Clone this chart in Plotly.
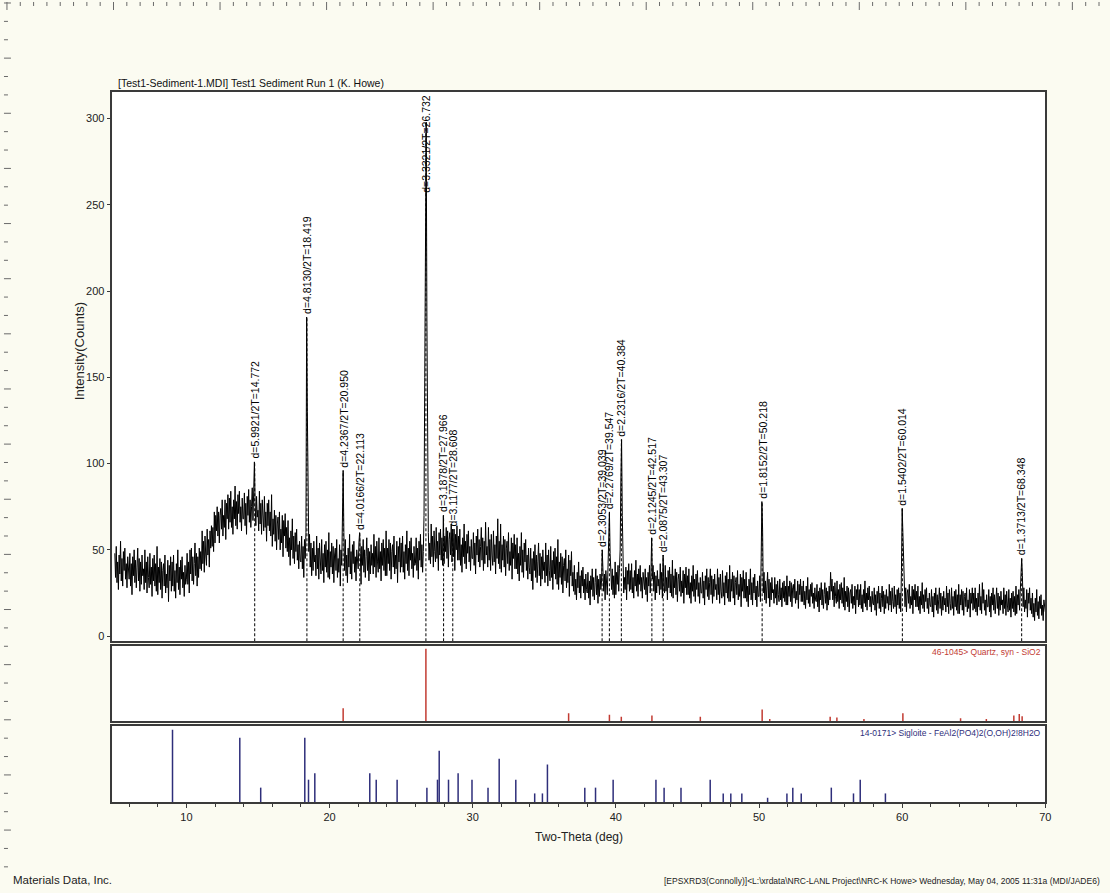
import plotly.graph_objects as go

# ---------------- data ----------------
TWO_THETA_START = 5.0
TWO_THETA_STEP = 0.05
# measured counts, one row per degree (x.00, x.05, ... x.95)
INTENSITY = [
    48, 34, 52, 31, 43, 27, 47, 36, 55, 32, 45, 29, 49, 38, 51, 33, 42, 28, 46, 35,   # 5
    33, 48, 29, 42, 24, 46, 35, 50, 31, 44, 28, 40, 51, 32, 45, 26, 43, 30, 47, 35,   # 6
    39, 27, 50, 31, 43, 25, 46, 34, 28, 48, 30, 40, 23, 45, 32, 47, 29, 42, 26, 52,   # 7
    24, 40, 31, 45, 27, 43, 22, 38, 42, 29, 47, 25, 36, 28, 44, 20, 41, 32, 46, 26,   # 8
    43, 29, 47, 26, 38, 22, 42, 31, 50, 27, 40, 24, 44, 33, 46, 28, 37, 23, 41, 30,   # 9
    33, 48, 30, 43, 25, 50, 36, 51, 32, 46, 30, 42, 54, 35, 48, 29, 46, 34, 51, 39,   # 10
    49, 38, 61, 42, 55, 37, 58, 47, 41, 62, 47, 56, 40, 61, 51, 64, 52, 63, 49, 72,   # 11
    54, 70, 61, 75, 58, 72, 54, 70, 74, 62, 79, 58, 70, 63, 79, 56, 77, 68, 82, 62,   # 12
    80, 66, 84, 63, 75, 59, 79, 68, 87, 64, 78, 62, 82, 71, 84, 66, 75, 61, 80, 68,   # 13
    68, 83, 64, 77, 59, 81, 70, 85, 66, 79, 63, 75, 86, 67, 80, 101, 78, 64, 81, 69,  # 14
    73, 61, 84, 65, 77, 59, 79, 67, 61, 81, 63, 72, 55, 77, 64, 79, 61, 72, 58, 82,   # 15
    52, 68, 59, 73, 55, 70, 50, 65, 69, 56, 72, 50, 62, 54, 70, 46, 67, 58, 71, 51,   # 16
    63, 49, 67, 46, 57, 41, 61, 50, 68, 45, 58, 42, 60, 49, 62, 44, 53, 39, 55, 44,   # 17
    43, 58, 39, 52, 34, 56, 45, 60, 185, 130, 70, 49, 59, 40, 54, 35, 51, 38, 55, 43,  # 18
    47, 35, 58, 39, 51, 33, 54, 42, 36, 56, 38, 48, 31, 53, 40, 55, 37, 50, 34, 60,   # 19
    33, 49, 40, 54, 36, 52, 31, 47, 51, 38, 56, 34, 45, 37, 53, 29, 50, 41, 70, 96,   # 20
    60, 38, 56, 35, 47, 31, 51, 40, 59, 36, 49, 33, 53, 42, 55, 37, 46, 32, 50, 39,   # 21
    39, 54, 60, 48, 30, 52, 41, 56, 37, 50, 34, 46, 57, 38, 51, 32, 49, 36, 53, 41,   # 22
    48, 36, 59, 40, 52, 34, 55, 43, 37, 57, 39, 49, 32, 54, 41, 56, 38, 51, 35, 61,   # 23
    35, 51, 42, 56, 38, 54, 33, 49, 53, 40, 58, 36, 47, 39, 55, 31, 52, 43, 57, 37,   # 24
    54, 40, 58, 37, 49, 33, 53, 42, 61, 38, 51, 35, 55, 44, 57, 39, 48, 34, 52, 41,   # 25
    42, 57, 38, 51, 33, 55, 44, 59, 40, 53, 37, 49, 70, 150, 250, 298, 185, 90, 60, 44,  # 26
    54, 42, 65, 46, 58, 40, 61, 49, 43, 63, 45, 55, 38, 60, 47, 62, 44, 57, 41, 70,   # 27
    42, 58, 49, 63, 45, 61, 40, 56, 60, 47, 65, 43, 62, 46, 62, 38, 59, 50, 64, 44,   # 28
    58, 44, 62, 41, 53, 37, 57, 46, 65, 42, 55, 39, 59, 48, 61, 43, 52, 38, 56, 45,   # 29
    45, 60, 41, 54, 36, 58, 47, 62, 43, 56, 40, 52, 63, 44, 57, 38, 55, 42, 66, 47,   # 30
    52, 40, 63, 44, 56, 38, 59, 47, 41, 61, 43, 53, 36, 58, 45, 68, 42, 55, 39, 65,   # 31
    37, 53, 44, 58, 40, 56, 35, 51, 55, 42, 60, 38, 49, 41, 57, 33, 54, 45, 59, 39,   # 32
    53, 39, 57, 36, 48, 32, 52, 41, 60, 37, 50, 34, 54, 43, 56, 38, 47, 33, 51, 40,   # 33
    36, 51, 32, 45, 27, 49, 38, 53, 34, 47, 31, 43, 54, 35, 48, 29, 46, 33, 50, 38,   # 34
    43, 31, 54, 35, 47, 29, 50, 38, 32, 52, 34, 44, 27, 49, 36, 51, 33, 46, 30, 56,   # 35
    27, 43, 34, 48, 30, 46, 25, 41, 45, 32, 50, 28, 39, 31, 47, 23, 44, 35, 49, 29,   # 36
    37, 26, 41, 24, 33, 21, 37, 28, 43, 25, 35, 22, 38, 29, 40, 25, 33, 21, 36, 27,   # 37
    25, 37, 22, 32, 18, 35, 27, 39, 23, 34, 21, 31, 39, 24, 35, 19, 33, 23, 36, 27,   # 38
    32, 50, 41, 26, 36, 21, 38, 28, 24, 40, 55, 72, 48, 37, 27, 39, 24, 35, 22, 43,   # 39
    24, 37, 30, 41, 26, 39, 50, 90, 114, 70, 42, 25, 34, 27, 40, 21, 38, 30, 42, 26,  # 40
    38, 27, 42, 25, 34, 22, 38, 29, 44, 26, 36, 23, 39, 30, 41, 26, 34, 22, 37, 28,   # 41
    27, 39, 24, 34, 20, 37, 29, 41, 25, 36, 57, 33, 41, 26, 37, 21, 35, 25, 38, 29,   # 42
    33, 24, 42, 27, 37, 22, 47, 29, 25, 41, 26, 34, 21, 38, 28, 40, 25, 36, 23, 44,   # 43
    22, 35, 28, 39, 24, 37, 20, 33, 36, 26, 40, 23, 32, 25, 38, 19, 36, 28, 40, 24,   # 44
    35, 24, 39, 22, 31, 19, 35, 26, 41, 23, 33, 20, 36, 27, 38, 23, 31, 19, 34, 25,   # 45
    25, 37, 22, 32, 18, 35, 27, 39, 23, 34, 21, 31, 39, 24, 35, 19, 33, 23, 36, 27,   # 46
    30, 21, 39, 24, 34, 19, 36, 26, 22, 38, 23, 31, 18, 35, 25, 37, 22, 33, 20, 41,   # 47
    20, 33, 26, 37, 22, 35, 18, 31, 34, 24, 38, 21, 30, 23, 36, 17, 34, 26, 38, 22,   # 48
    33, 22, 37, 20, 29, 17, 33, 24, 39, 21, 31, 18, 34, 25, 36, 21, 29, 17, 32, 23,   # 49
    23, 35, 20, 45, 78, 62, 25, 37, 21, 32, 19, 29, 37, 22, 33, 17, 31, 21, 34, 25,   # 50
    27, 19, 34, 22, 30, 18, 32, 24, 20, 33, 21, 28, 17, 31, 22, 32, 20, 29, 18, 35,   # 51
    18, 29, 23, 32, 20, 31, 17, 28, 30, 22, 33, 19, 26, 21, 32, 16, 30, 24, 33, 20,   # 52
    29, 20, 32, 18, 26, 16, 29, 21, 34, 19, 27, 17, 30, 23, 31, 19, 25, 16, 28, 21,   # 53
    20, 30, 17, 26, 14, 28, 21, 31, 18, 27, 16, 24, 31, 19, 28, 15, 26, 18, 29, 21,   # 54
    37, 26, 33, 21, 29, 17, 31, 23, 19, 32, 20, 27, 16, 30, 21, 31, 19, 28, 17, 34,   # 55
    15, 26, 20, 29, 17, 28, 14, 25, 27, 19, 30, 16, 23, 18, 29, 13, 27, 21, 30, 17,   # 56
    27, 18, 30, 16, 24, 14, 27, 19, 32, 17, 25, 15, 28, 21, 29, 17, 23, 14, 26, 19,   # 57
    18, 28, 15, 24, 12, 26, 19, 29, 16, 25, 14, 22, 29, 17, 26, 13, 24, 16, 27, 19,   # 58
    23, 15, 30, 18, 26, 14, 28, 20, 16, 29, 17, 24, 13, 27, 18, 28, 16, 25, 14, 38,   # 59
    74, 60, 40, 29, 17, 28, 14, 25, 27, 19, 30, 16, 23, 18, 29, 13, 27, 21, 30, 17,   # 60
    26, 17, 29, 15, 23, 13, 26, 18, 31, 16, 24, 14, 27, 20, 28, 16, 22, 13, 25, 18,   # 61
    17, 27, 14, 23, 11, 25, 18, 28, 15, 24, 13, 21, 28, 16, 25, 12, 23, 15, 26, 18,   # 62
    22, 14, 29, 17, 25, 13, 27, 19, 15, 28, 16, 23, 12, 26, 17, 27, 15, 24, 13, 30,   # 63
    13, 24, 18, 27, 15, 26, 12, 23, 25, 17, 28, 14, 21, 16, 27, 11, 25, 19, 28, 15,   # 64
    25, 16, 28, 14, 22, 12, 25, 17, 30, 15, 23, 13, 31, 19, 27, 15, 21, 12, 24, 17,   # 65
    17, 27, 14, 23, 11, 25, 18, 28, 15, 24, 13, 21, 28, 16, 25, 12, 23, 15, 26, 18,   # 66
    21, 13, 28, 16, 24, 12, 26, 18, 14, 27, 15, 22, 11, 25, 16, 26, 14, 23, 12, 29,   # 67
    13, 24, 18, 27, 15, 26, 33, 45, 35, 17, 28, 14, 21, 16, 27, 11, 25, 19, 28, 15,   # 68
    22, 13, 25, 11, 19, 9, 22, 14, 27, 12, 20, 10, 23, 16, 24, 12, 18, 9, 21, 14,     # 69
    14,                                                                               # 70
]

PEAK_2THETA = [14.772, 18.419, 20.950, 22.113, 26.732, 27.966, 28.608,
               39.039, 39.547, 40.384, 42.517, 43.307, 50.218, 60.014, 68.348]
PEAK_D = ["5.9921", "4.8130", "4.2367", "4.0166", "3.3321", "3.1878", "3.1177",
          "2.3053", "2.2769", "2.2316", "2.1245", "2.0875", "1.8152", "1.5402", "1.3713"]
PEAK_HEIGHT = [101, 185, 96, 60, 298, 70, 62, 50, 72, 114, 57, 47, 78, 74, 45]

QUARTZ_2THETA = [20.95, 26.73, 36.70, 39.55, 40.38, 42.52, 45.90, 50.22, 50.75,
                 54.97, 55.44, 57.33, 60.05, 64.08, 65.88, 67.80, 68.18, 68.38]
QUARTZ_INT = [18, 100, 11, 9, 6, 8, 6, 16, 3, 6, 5, 3, 11, 4, 3, 8, 10, 7]

SIGLOITE_2THETA = [9.03, 13.73, 15.19, 18.27, 18.53, 18.97, 22.81, 23.26, 24.72,
                   26.80, 27.54, 27.66, 28.31, 28.98, 29.95, 31.07, 31.85, 33.01,
                   34.33, 34.87, 35.22, 37.83, 38.58, 39.81, 42.80, 43.37, 44.55,
                   46.59, 47.50, 48.03, 48.80, 50.60, 51.95, 52.36, 52.95, 55.05,
                   56.60, 57.07, 58.83]
SIGLOITE_INT = [100, 89, 20, 89, 31, 40, 40, 31, 31,
                20, 31, 71, 31, 40, 31, 20, 60, 31,
                12, 12, 52, 20, 20, 31, 31, 20, 20,
                31, 12, 12, 12, 6, 12, 20, 12, 20,
                12, 31, 12]

X_TICKS = [10, 20, 30, 40, 50, 60, 70]
Y_TICKS = [0, 50, 100, 150, 200, 250, 300]

# ---------------- layout geometry (pixels) ----------------
W, H = 1110, 893
PAPER = "#FBFBF1"
FONT = "Liberation Sans, Arial, sans-serif"
QZ_COLOR = "#C23B32"
SG_COLOR = "#2E2E7A"
AX_COLOR = "#3a3a3a"

X_L, X_R = 113, 1051
MAIN_T, MAIN_B = 92, 642
QZ_T, QZ_B = 647, 722
SG_T, SG_B = 727, 803
X_RANGE = [4.83, 70.0]
Y_MIN, Y_MAX = -3, 315.5


def fx(p):
    return p / W


def fy(p):
    return 1 - p / H


two_theta = [round(TWO_THETA_START + i * TWO_THETA_STEP, 3) for i in range(len(INTENSITY))]

fig = go.Figure()

# dashed peak markers (under the pattern)
dx, dy = [], []
for t, h in zip(PEAK_2THETA, PEAK_HEIGHT):
    dx += [t, t, None]
    dy += [Y_MIN, h, None]
fig.add_trace(go.Scatter(x=dx, y=dy, mode="lines", xaxis="x", yaxis="y",
                         line=dict(color="black", width=1, dash="3px,2px"),
                         hoverinfo="skip", showlegend=False))

fig.add_trace(go.Scatter(x=two_theta, y=INTENSITY, mode="lines", xaxis="x", yaxis="y",
                         line=dict(color="black", width=1), showlegend=False))

qx, qy = [], []
for t, h in zip(QUARTZ_2THETA, QUARTZ_INT):
    qx += [t, t, None]
    qy += [0, h, None]
fig.add_trace(go.Scatter(x=qx, y=qy, mode="lines", xaxis="x2", yaxis="y2",
                         line=dict(color=QZ_COLOR, width=1.5), showlegend=False))

sx, sy = [], []
for t, h in zip(SIGLOITE_2THETA, SIGLOITE_INT):
    sx += [t, t, None]
    sy += [0, h, None]
fig.add_trace(go.Scatter(x=sx, y=sy, mode="lines", xaxis="x3", yaxis="y3",
                         line=dict(color=SG_COLOR, width=1.5), showlegend=False))

common_x = dict(domain=[fx(X_L), fx(X_R)], range=X_RANGE, showgrid=False, zeroline=False,
                showline=True, mirror=True, linecolor=AX_COLOR, linewidth=1.5)
common_y = dict(showgrid=False, zeroline=False, showline=True, mirror=True,
                linecolor=AX_COLOR, linewidth=1.5)

annotations = []
# peak labels
px_per_unit = (MAIN_B - MAIN_T) / (Y_MAX - Y_MIN)
label_units = 100 / px_per_unit
for t, d, h in zip(PEAK_2THETA, PEAK_D, PEAK_HEIGHT):
    if h + label_units > Y_MAX:
        y, ya, ys = Y_MAX, "top", -1
    else:
        y, ya, ys = h, "bottom", 1
    annotations.append(dict(x=t, y=y, xref="x", yref="y", text=f"d={d}/2T={t:.3f}",
                            textangle=-90, showarrow=False, xanchor="center", yanchor=ya,
                            yshift=ys, font=dict(family=FONT, size=10.5, color="black")))

annotations += [
    dict(x=fx(117), y=fy(91), xref="paper", yref="paper", xanchor="left", yanchor="bottom",
         text="[Test1-Sediment-1.MDI] Test1 Sediment Run 1 (K. Howe)", showarrow=False,
         font=dict(family=FONT, size=10.5, color="#111")),
    dict(x=fx(80), y=fy(352), xref="paper", yref="paper", xanchor="center", yanchor="middle",
         text="Intensity(Counts)", textangle=-90, showarrow=False,
         font=dict(family=FONT, size=13, color="#222")),
    dict(x=fx((X_L + X_R) / 2), y=fy(838), xref="paper", yref="paper", xanchor="center",
         yanchor="middle", text="Two-Theta (deg)", showarrow=False,
         font=dict(family=FONT, size=12, color="#222")),
    dict(x=fx(1049), y=fy(653), xref="paper", yref="paper", xanchor="right", yanchor="middle",
         text="46-1045&gt; Quartz, syn - SiO2", showarrow=False,
         font=dict(family=FONT, size=8.5, color=QZ_COLOR)),
    dict(x=fx(1049), y=fy(734), xref="paper", yref="paper", xanchor="right", yanchor="middle",
         text="14-0171&gt; Sigloite - FeAl2(PO4)2(O,OH)2!8H2O", showarrow=False,
         font=dict(family=FONT, size=8.5, color=SG_COLOR)),
    dict(x=fx(11), y=fy(881), xref="paper", yref="paper", xanchor="left", yanchor="middle",
         text="Materials Data, Inc.", showarrow=False,
         font=dict(family=FONT, size=11.5, color="#222")),
    dict(x=fx(1108), y=fy(882), xref="paper", yref="paper", xanchor="right", yanchor="middle",
         text="[EPSXRD3(Connolly)]&lt;L:\\xrdata\\NRC-LANL Project\\NRC-K Howe&gt; Wednesday, May 04, 2005 11:31a (MDI/JADE6)",
         showarrow=False, font=dict(family=FONT, size=8.5, color="#222")),
]

# page ruler marks (decoration)
shapes = []
k = 0
while 7 + 13.39 * k < W - 2:
    xp = 7 + 13.39 * k
    major = (k % 8 == 0)
    shapes.append(dict(type="line", xref="paper", yref="paper", x0=fx(xp), x1=fx(xp),
                       y0=fy(2), y1=fy(10 if major else 6),
                       line=dict(color="#6a6a6a", width=1)))
    k += 1
k = 0
while 3 + 18.4 * k < H - 14:
    yp = 3 + 18.4 * k
    major = (k % 3 == 0)
    shapes.append(dict(type="line", xref="paper", yref="paper", x0=fx(4), x1=fx(11 if major else 8),
                       y0=fy(yp), y1=fy(yp), line=dict(color="#6a6a6a", width=1)))
    k += 1

fig.update_layout(
    width=W, height=H, autosize=False,
    margin=dict(l=0, r=0, t=0, b=0),
    paper_bgcolor=PAPER, plot_bgcolor="white",
    font=dict(family=FONT, size=11, color="#222"),
    showlegend=False,
    xaxis=dict(common_x, anchor="y", showticklabels=False, ticks=""),
    yaxis=dict(common_y, domain=[fy(MAIN_B), fy(MAIN_T)], range=[Y_MIN, Y_MAX], anchor="x",
               tickmode="array", tickvals=Y_TICKS, ticks="outside", ticklen=4,
               tickcolor=AX_COLOR, tickfont=dict(size=11, color="#222")),
    xaxis2=dict(common_x, anchor="y2", matches="x", showticklabels=False, ticks=""),
    yaxis2=dict(common_y, domain=[fy(QZ_B), fy(QZ_T)], range=[0, 103.5], anchor="x2",
                showticklabels=False, ticks=""),
    xaxis3=dict(common_x, anchor="y3", matches="x", tickmode="array", tickvals=X_TICKS,
                ticks="outside", ticklen=4, tickcolor=AX_COLOR,
                tickfont=dict(size=11, color="#222"),
                minor=dict(tickmode="linear", tick0=0, dtick=2, ticks="outside", ticklen=3,
                           tickcolor=AX_COLOR)),
    yaxis3=dict(common_y, domain=[fy(SG_B), fy(SG_T)], range=[0, 105], anchor="x3",
                showticklabels=False, ticks=""),
    annotations=annotations,
    shapes=shapes,
)

fig.write_html(
    "out.html",
    config={"displayModeBar": False},
    post_script="document.body.style.margin='0px';document.body.style.background='#FBFBF1';document.body.style.overflow='hidden';",
)
